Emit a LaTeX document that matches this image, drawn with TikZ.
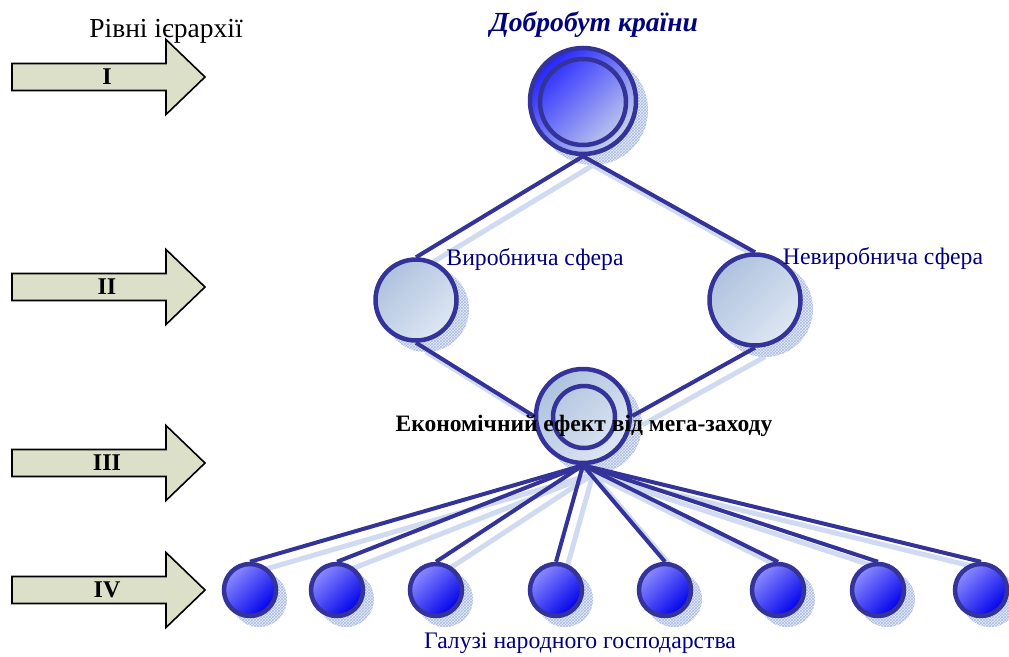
\documentclass[tikz,border=0pt]{standalone}
\usepackage{fontspec}
\setmainfont{Liberation Serif}
\usetikzlibrary{patterns}
\definecolor{linec}{RGB}{51,51,153}
\definecolor{navyt}{RGB}{0,0,128}
\definecolor{arrowfill}{RGB}{221,224,200}
\definecolor{shadowbg}{RGB}{232,237,248}
\definecolor{shadowpat}{RGB}{170,188,224}
\definecolor{shadowln}{RGB}{208,218,240}
\definecolor{topA}{RGB}{36,36,255}
\definecolor{topB}{RGB}{150,165,228}
\definecolor{topC}{RGB}{200,212,234}
\definecolor{midA}{RGB}{174,194,222}
\definecolor{midB}{RGB}{222,230,243}
\definecolor{botA}{RGB}{140,140,255}
\definecolor{botB}{RGB}{10,10,255}
\definecolor{botC}{RGB}{0,0,235}
\pgfdeclarelayer{shadowlayer}
\pgfdeclarelayer{linelayer}
\pgfsetlayers{shadowlayer,linelayer,main}
\tikzset{
  circ/.style={circle, draw=linec, line width=4.5pt, inner sep=0pt},
  topnode/.style={circ, top color=topA, middle color=topB, bottom color=topC, shading angle=45},
  secnode/.style={circ, top color=midA, bottom color=midB, shading angle=45},
  botnode/.style={circ, minimum size=52pt, top color=botA, middle color=botB, bottom color=botC, shading angle=45},
  ring/.style={circle, draw=linec, line width=4.5pt, inner sep=0pt, fill=none},
  conn/.style={draw=linec, line width=4pt},
  shline/.style={draw=shadowln, line width=5pt},
  shfill/.style={fill=shadowbg, postaction={pattern=crosshatch, pattern color=shadowpat}},
  arrowbox/.style={draw=black, line width=1.6pt, fill=arrowfill, line join=miter},
  lvl/.style={font=\fontsize{24}{26}\selectfont\bfseries, text=black, inner sep=0pt},
  bluetxt/.style={font=\fontsize{23.7}{26}\selectfont, text=navyt, inner sep=0pt},
}
\begin{document}
\begin{tikzpicture}[x=1pt,y=-1pt]
\useasboundingbox (0,0) rectangle (1009,656);

% level arrows
\foreach \c/\lab/\nm in {77/I/la, 287/II/lb, 463/III/lc, 590/IV/ld}{
  \draw[arrowbox] (12,\c-13.5) -- (166,\c-13.5) -- (166,\c-37.5) -- (205,\c) -- (166,\c+37.5) -- (166,\c+13.5) -- (12,\c+13.5) -- cycle;
  \node[lvl] (\nm) at (107,\c) {\lab};
}
\node[font=\fontsize{27.5}{30}\selectfont, inner sep=0pt] (title) at (166,31) {Рівні ієрархії};

% nodes
\node[topnode, minimum size=106pt] (top) at (583,101) {};
\node[ring, minimum size=86pt] (topin) at (583,102) {};
\node[secnode, minimum size=81pt] (vir) at (416,300) {};
\node[secnode, minimum size=91pt] (nevir) at (755,300) {};
\node[secnode, minimum size=94pt] (mid) at (583,416) {};
\node[ring, minimum size=62pt] (midin) at (584,417) {};
\foreach \x [count=\i] in {250,337,436,556,665,778,878,981}{
  \node[botnode] (b\i) at (\x,590) {};
}

% connectors
\begin{pgfonlayer}{linelayer}
  \draw[conn] (top.south) -- (vir.north);
  \draw[conn] (top.south) -- (nevir.north);
  \draw[conn] (vir.south) -- (mid.west);
  \draw[conn] (nevir.south) -- (mid.east);
  \foreach \i in {1,...,8}{ \draw[conn] (mid.south) -- (b\i.north); }
\end{pgfonlayer}

% shadows
\begin{pgfonlayer}{shadowlayer}
  \draw[shline] ([shift={(10,9)}]top.south) -- ([shift={(10,9)}]vir.north);
  \draw[shline] ([shift={(10,9)}]top.south) -- ([shift={(10,9)}]nevir.north);
  \draw[shline] ([shift={(10,9)}]vir.south) -- ([shift={(10,9)}]mid.west);
  \draw[shline] ([shift={(10,9)}]nevir.south) -- ([shift={(10,9)}]mid.east);
  \foreach \i in {1,...,8}{ \draw[shline] ([shift={(10,9)}]mid.south) -- ([shift={(10,9)}]b\i.north); }
  \fill[shfill] ([shift={(10,9)}]top.center) circle (55);
  \fill[shfill] ([shift={(10,9)}]vir.center) circle (43);
  \fill[shfill] ([shift={(10,9)}]nevir.center) circle (48);
  \fill[shfill] ([shift={(10,9)}]mid.center) circle (49);
  \foreach \i in {1,...,8}{ \fill[shfill] ([shift={(9,9)}]b\i.center) circle (28); }
\end{pgfonlayer}

% labels
\node[font=\fontsize{27.6}{30}\selectfont\bfseries\itshape, text=navyt, inner sep=0pt] (tl) at (594,25) {Добробут країни};
\node[bluetxt] (virl) at (535,260) {Виробнича сфера};
\node[bluetxt] (nevirl) at (883,259) {Невиробнича сфера};
\node[font=\fontsize{23.5}{26}\selectfont\bfseries, text=black, inner sep=0pt] (midl) at (584,426) {Економічний ефект від мега-заходу};
\node[bluetxt] (botl) at (580,643) {Галузі народного господарства};
\end{tikzpicture}
\end{document}
